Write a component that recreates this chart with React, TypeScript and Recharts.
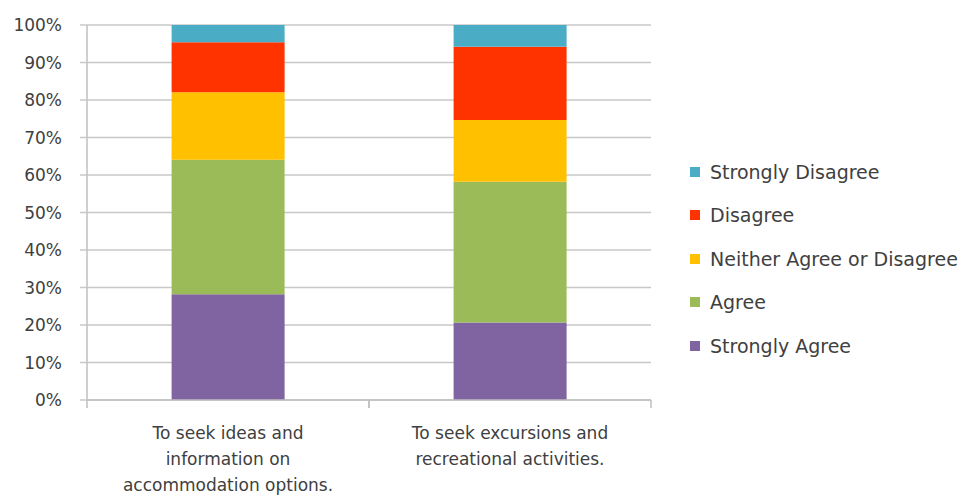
import React from 'react';
import { BarChart, Bar, XAxis, YAxis, CartesianGrid } from 'recharts';

const categories = [
  'To seek ideas and information on accommodation options.',
  'To seek excursions and recreational activities.',
];
const categoryLines = [
  ['To seek ideas and', 'information on', 'accommodation options.'],
  ['To seek excursions and', 'recreational activities.'],
];
const stronglyAgree = [28.2, 20.7];
const agree = [35.9, 37.5];
const neither = [18.0, 16.5];
const disagree = [13.3, 19.5];
const stronglyDisagree = [4.6, 5.8];
const yTicks = [0, 10, 20, 30, 40, 50, 60, 70, 80, 90, 100];

const series = [
  { key: 'sa', name: 'Strongly Agree', color: '#8064A2' },
  { key: 'a', name: 'Agree', color: '#9BBB59' },
  { key: 'n', name: 'Neither Agree or Disagree', color: '#FFC000' },
  { key: 'd', name: 'Disagree', color: '#FF3300' },
  { key: 'sd', name: 'Strongly Disagree', color: '#4BACC6' },
];

const chartData = categories.map((c, i) => ({
  category: c,
  sa: stronglyAgree[i],
  a: agree[i],
  n: neither[i],
  d: disagree[i],
  sd: stronglyDisagree[i],
}));

const FONT = 'DejaVu Sans, sans-serif';

const XTick = (props: any) => {
  const { x, y, payload, index, width, visibleTicksCount } = props;
  const band = width / (visibleTicksCount || 2);
  const lines = categoryLines[index] || [payload.value];
  return (
    <g>
      <line x1={x - band / 2} y1={y - 8} x2={x - band / 2} y2={y} stroke="#bfbfbf" strokeWidth={1.5} />
      <line x1={x + band / 2} y1={y - 8} x2={x + band / 2} y2={y} stroke="#bfbfbf" strokeWidth={1.5} />
      <text x={x} y={y + 31} textAnchor="middle" fontSize={17} fill="#404040" fontFamily={FONT}>
        {lines.map((l: string, i: number) => (
          <tspan key={i} x={x} dy={i === 0 ? 0 : 26}>{l}</tspan>
        ))}
      </text>
    </g>
  );
};

const App: React.FC = () => {
  return (
    <div style={{ position: 'absolute', left: 0, top: 0, width: 966, height: 502, background: '#fff' }}>
      <BarChart
        width={966}
        height={502}
        data={chartData}
        margin={{ top: 25, right: 315, left: 0, bottom: 0 }}
        barCategoryGap="30%"
      >
        <CartesianGrid vertical={false} stroke="#c8c8c8" strokeWidth={1.5} />
        <XAxis
          dataKey="category"
          tick={<XTick />}
          tickLine={false}
          axisLine={{ stroke: '#bfbfbf', strokeWidth: 1.5 }}
          interval={0}
          height={102}
        />
        <YAxis
          width={87}
          domain={[0, 100]}
          ticks={yTicks}
          tickFormatter={(v: number) => `${v}%`}
          tickSize={7}
          tickMargin={18}
          tickLine={{ stroke: '#c8c8c8', strokeWidth: 1.5 }}
          axisLine={{ stroke: '#bfbfbf', strokeWidth: 1.5 }}
          tick={{ fill: '#404040', fontSize: 17, fontFamily: FONT }}
          interval={0}
          allowDataOverflow
        />
        {series.map((s) => (
          <Bar key={s.key} dataKey={s.key} name={s.name} stackId="a" fill={s.color} isAnimationActive={false} />
        ))}
      </BarChart>
      <div style={{ position: 'absolute', left: 690, top: 150, fontFamily: FONT, fontSize: 19, color: '#404040' }}>
        {[...series].reverse().map((s) => (
          <div key={s.key} style={{ display: 'flex', alignItems: 'center', height: 43.5, whiteSpace: 'nowrap' }}>
            <span style={{ display: 'inline-block', width: 10, height: 10, background: s.color, marginRight: 10 }} />
            <span>{s.name}</span>
          </div>
        ))}
      </div>
    </div>
  );
};

export default App;
